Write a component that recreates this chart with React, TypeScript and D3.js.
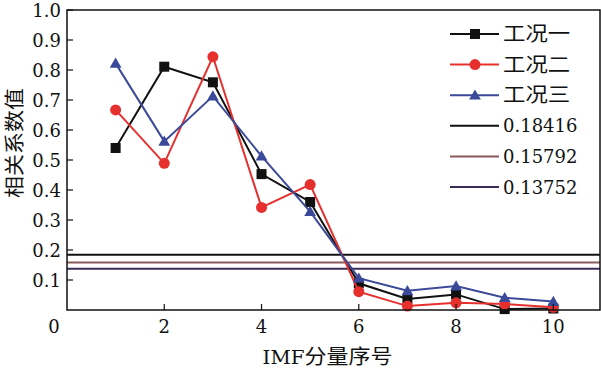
import React from "react";
import * as d3 from "d3";

// IMF component index
const imf = [1, 2, 3, 4, 5, 6, 7, 8, 9, 10];
// correlation coefficients per working condition
const case1 = [0.54, 0.811, 0.759, 0.453, 0.36, 0.089, 0.037, 0.052, 0.003, 0.005];
const case2 = [0.667, 0.489, 0.844, 0.342, 0.418, 0.061, 0.013, 0.024, 0.02, 0.009];
const case3 = [0.822, 0.562, 0.713, 0.513, 0.328, 0.106, 0.064, 0.08, 0.041, 0.028];
const seriesNames = ["工况一", "工况二", "工况三"];
// threshold lines
const thresholds = [0.18416, 0.15792, 0.13752];
const xTicks = [2, 4, 6, 8, 10];
const yTicks = [0.1, 0.2, 0.3, 0.4, 0.5, 0.6, 0.7, 0.8, 0.9, 1.0];

const W = 601;
const H = 371;
const left = 67, right = 600, top = 10, bottom = 310;
const serif = "'DejaVu Serif', serif";
const cjk = "'Noto Sans CJK SC', sans-serif";

const seriesColors = ["#111111", "#e5302e", "#3b4a98"];
const threshColors = ["#111111", "#8a5a5c", "#3a2a58"];

function Txt({ x, y, anchor = "start", font = serif, size = 18, sx = 1, children }: any) {
  return (
    <text
      transform={`translate(${x},${y}) scale(${sx},1)`}
      textAnchor={anchor}
      fontFamily={font}
      fontSize={size}
      fill="#111"
    >
      {children}
    </text>
  );
}

function Marker({ kind, x, y, color }: any) {
  if (kind === 0) return <rect x={x - 5} y={y - 5} width={10} height={10} fill={color} />;
  if (kind === 1) return <circle cx={x} cy={y} r={5.5} fill={color} />;
  const p = d3.symbol(d3.symbolTriangle, 60)() as string;
  return <path d={p} transform={`translate(${x},${y + 1})`} fill={color} />;
}

export default function App() {
  const x = d3.scaleLinear().domain([0, 10.96]).range([left, right]);
  const y = d3.scaleLinear().domain([0, 1]).range([bottom, top]);
  const data = [case1, case2, case3];
  const line = d3
    .line<number>()
    .x((_, i) => x(imf[i]))
    .y((d) => y(d));

  const legendX = 450;
  const legendY = (i: number) => 34 + i * 30.6;

  return (
    <svg width={W} height={H} style={{ position: "absolute", left: 0, top: 0, background: "#fff" }}>
      {thresholds.map((t, i) => (
        <line key={t} x1={left} x2={right} y1={y(t)} y2={y(t)} stroke={threshColors[i]} strokeWidth={2} />
      ))}
      {data.map((s, k) => (
        <g key={k}>
          <path d={line(s) as string} fill="none" stroke={seriesColors[k]} strokeWidth={2} />
          {s.map((v, i) => (
            <Marker key={i} kind={k} x={x(imf[i])} y={y(v)} color={seriesColors[k]} />
          ))}
        </g>
      ))}
      <rect x={left} y={top} width={right - left} height={bottom - top} fill="none" stroke="#111" strokeWidth={1.5} />
      {yTicks.map((t) => (
        <g key={t}>
          <line x1={left} x2={left + 6} y1={y(t)} y2={y(t)} stroke="#111" strokeWidth={1.2} />
          <Txt x={61} y={y(t) + 6.5} anchor="end">{d3.format(".1f")(t)}</Txt>
        </g>
      ))}
      {xTicks.map((t) => (
        <g key={t}>
          <line x1={x(t)} x2={x(t)} y1={bottom} y2={bottom - 6} stroke="#111" strokeWidth={1.2} />
          <Txt x={x(t)} y={bottom + 23} anchor="middle">{t}</Txt>
        </g>
      ))}
      <Txt x={54} y={bottom + 23} anchor="middle">0</Txt>
      <Txt x={(left + right) / 2 - 6} y={364} anchor="middle" font={cjk} size={20} sx={1.1}>
        <tspan fontFamily={serif} fontSize={18}>IMF</tspan>分量序号
      </Txt>
      <text
        transform={`translate(22,${143}) rotate(-90) scale(1.1,1)`}
        textAnchor="middle"
        fontFamily={cjk}
        fontSize={20}
        fill="#111"
      >
        相关系数值
      </text>
      {seriesNames.map((n, i) => (
        <g key={n}>
          <line x1={legendX} x2={legendX + 49} y1={legendY(i)} y2={legendY(i)} stroke={seriesColors[i]} strokeWidth={2} />
          <Marker kind={i} x={legendX + 25} y={legendY(i)} color={seriesColors[i]} />
          <Txt x={legendX + 53} y={legendY(i) + 7} font={cjk} size={20} sx={1.12}>{n}</Txt>
        </g>
      ))}
      {thresholds.map((t, j) => {
        const i = j + 3;
        return (
          <g key={t}>
            <line x1={legendX} x2={legendX + 49} y1={legendY(i)} y2={legendY(i)} stroke={threshColors[j]} strokeWidth={2} />
            <Txt x={legendX + 53} y={legendY(i) + 6.5}>{t}</Txt>
          </g>
        );
      })}
    </svg>
  );
}
